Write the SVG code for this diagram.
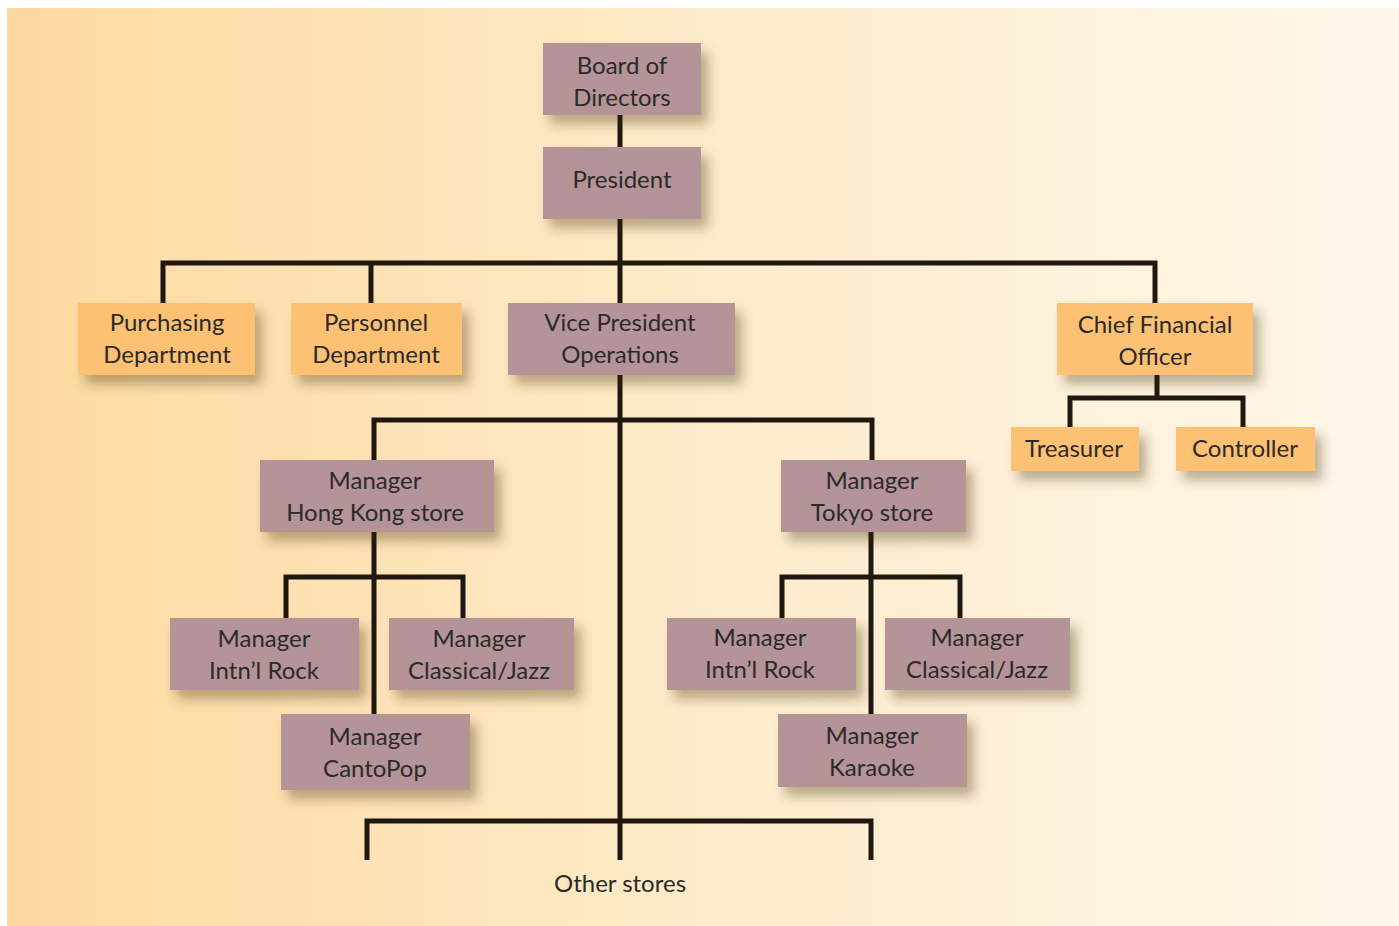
<svg xmlns="http://www.w3.org/2000/svg" width="1399" height="926" viewBox="0 0 1399 926">
<defs>
<linearGradient id="bg" x1="0" y1="0" x2="1" y2="0">
<stop offset="0" stop-color="#FDD99F"/>
<stop offset="0.5" stop-color="#FEEBCA"/>
<stop offset="1" stop-color="#FEF7EA"/>
</linearGradient>
<filter id="sh" x="-20%" y="-30%" width="150%" height="180%">
<feDropShadow dx="7" dy="9" stdDeviation="6" flood-color="#3a2a10" flood-opacity="0.35"/>
</filter>
<style>
.m{fill:#B59498;filter:url(#sh)}
.o{fill:#FDC173;filter:url(#sh)}
text{font-family:Lato,"Open Sans","Liberation Sans",sans-serif;font-size:24px;fill:#2b2a2a;text-anchor:middle}
.c path{fill:none;stroke:#1f1810;stroke-width:5;stroke-linejoin:miter;stroke-linecap:butt}
</style>
</defs>
<rect x="0" y="0" width="1399" height="926" fill="#ffffff"/>
<rect x="7" y="8" width="1392" height="918" fill="url(#bg)"/>
<g class="c" id="connectors">
<path d="M620,115V147"/>
<path d="M620,219V860"/>
<path d="M163,303V263H1155V303"/>
<path d="M371,263V303"/>
<path d="M374,460V420H872V460"/>
<path d="M374,532V714"/>
<path d="M286,618V577H463V618"/>
<path d="M871,532V714"/>
<path d="M782,618V577H960V618"/>
<path d="M1157,375V398"/>
<path d="M1070,427V398H1243V427"/>
<path d="M367,860V821H871V860"/>
</g>
<g id="board"><rect class="m" x="543" y="43" width="158" height="72"/><text x="622" y="74">Board of</text><text x="622" y="106">Directors</text></g>
<g id="president"><rect class="m" x="543" y="147" width="158" height="72"/><text x="622" y="188">President</text></g>
<g id="purchasing"><rect class="o" x="78" y="303" width="177" height="72"/><text x="167" y="331">Purchasing</text><text x="167" y="363">Department</text></g>
<g id="personnel"><rect class="o" x="291" y="303" width="171" height="72"/><text x="376" y="331">Personnel</text><text x="376" y="363">Department</text></g>
<g id="vp"><rect class="m" x="508" y="303" width="227" height="72"/><text x="620" y="331">Vice President</text><text x="620" y="363">Operations</text></g>
<g id="cfo"><rect class="o" x="1057" y="303" width="196" height="72"/><text x="1155" y="333">Chief Financial</text><text x="1155" y="365">Officer</text></g>
<g id="treasurer"><rect class="o" x="1011" y="427" width="128" height="44"/><text x="1074" y="457">Treasurer</text></g>
<g id="controller"><rect class="o" x="1176" y="427" width="139" height="44"/><text x="1245" y="457">Controller</text></g>
<g id="hk"><rect class="m" x="260" y="460" width="234" height="72"/><text x="375" y="489">Manager</text><text x="375" y="521">Hong Kong store</text></g>
<g id="tokyo"><rect class="m" x="781" y="460" width="185" height="72"/><text x="872" y="489">Manager</text><text x="872" y="521">Tokyo store</text></g>
<g id="hk-rock"><rect class="m" x="170" y="618" width="189" height="72"/><text x="264" y="647">Manager</text><text x="264" y="679">Intn’l Rock</text></g>
<g id="hk-classical"><rect class="m" x="389" y="618" width="185" height="72"/><text x="479" y="647">Manager</text><text x="479" y="679">Classical/Jazz</text></g>
<g id="cantopop"><rect class="m" x="281" y="714" width="189" height="76"/><text x="375" y="745">Manager</text><text x="375" y="777">CantoPop</text></g>
<g id="tk-rock"><rect class="m" x="667" y="618" width="189" height="72"/><text x="760" y="646">Manager</text><text x="760" y="678">Intn’l Rock</text></g>
<g id="tk-classical"><rect class="m" x="885" y="618" width="185" height="72"/><text x="977" y="646">Manager</text><text x="977" y="678">Classical/Jazz</text></g>
<g id="karaoke"><rect class="m" x="778" y="714" width="189" height="73"/><text x="872" y="744">Manager</text><text x="872" y="776">Karaoke</text></g>
<g id="other"><text x="620" y="892">Other stores</text></g>
</svg>
